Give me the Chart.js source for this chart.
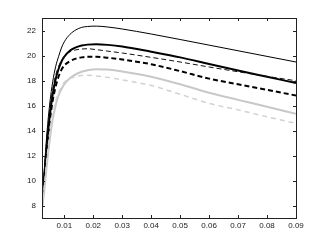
<!DOCTYPE html>
<html>
<head>
<meta charset="utf-8">
<script src="https://cdn.jsdelivr.net/npm/chart.js@4/dist/chart.umd.min.js"></script>
<style>
  html, body { margin: 0; padding: 0; background: #fff; }
  #wrap { width: 327px; height: 246px; }
</style>
</head>
<body>
<div id="wrap"><canvas id="plot"></canvas></div>
<script>
// sample positions along x, shared by every curve
const xs = [0.0023, 0.003, 0.004, 0.005, 0.006, 0.007, 0.008, 0.009, 0.010, 0.012, 0.014,
            0.016, 0.018, 0.021, 0.025, 0.03, 0.04, 0.05, 0.06, 0.07, 0.08, 0.09];

const thinSolid   = [8.4, 10.6, 13.8, 16.2, 17.9, 19.1, 19.9, 20.6, 21.1, 21.7, 22.05,
                     22.25, 22.32, 22.35, 22.28, 22.12, 21.72, 21.28, 20.83, 20.38, 19.93, 19.48];
const thinDashed  = [8.3, 10.4, 13.4, 15.7, 17.3, 18.4, 19.1, 19.6, 19.95, 20.3, 20.45,
                     20.52, 20.54, 20.47, 20.35, 20.2, 19.85, 19.48, 19.08, 18.7, 18.33, 17.98];
const thickSolid  = [8.2, 10.0, 12.9, 15.2, 16.9, 18.1, 18.9, 19.5, 19.9, 20.4, 20.65,
                     20.8, 20.87, 20.9, 20.85, 20.72, 20.3, 19.85, 19.32, 18.8, 18.3, 17.8];
const thickDashed = [8.0, 9.8, 12.6, 14.8, 16.4, 17.5, 18.3, 18.85, 19.2, 19.55, 19.75,
                     19.85, 19.9, 19.9, 19.82, 19.68, 19.3, 18.75, 18.15, 17.7, 17.25, 16.8];
const graySolid   = [7.7, 9.0, 11.3, 13.3, 14.9, 16.0, 16.8, 17.3, 17.7, 18.2, 18.5,
                     18.7, 18.82, 18.9, 18.88, 18.72, 18.3, 17.7, 17.02, 16.45, 15.9, 15.33];
const grayDashed  = [7.8, 9.3, 11.7, 13.7, 15.2, 16.3, 17.0, 17.5, 17.85, 18.15, 18.32,
                     18.4, 18.42, 18.36, 18.25, 18.05, 17.6, 16.9, 16.17, 15.65, 15.1, 14.57];

const xTicks = [0.01, 0.02, 0.03, 0.04, 0.05, 0.06, 0.07, 0.08, 0.09];
const yTicks = [8, 10, 12, 14, 16, 18, 20, 22];

const pts = ys => ys.map((y, i) => ({ x: xs[i], y: y }));

function line(ys, color, width, dash) {
    return {
        data: pts(ys),
        borderColor: color,
        borderWidth: width,
        borderDash: dash || [],
        pointRadius: 0,
        fill: false,
        cubicInterpolationMode: 'monotone'
    };
}

// MATLAB style box with inward ticks on all four sides
const boxPlugin = {
    id: 'box',
    afterDraw(chart) {
        const { ctx, chartArea: a, scales: { x, y } } = chart;
        const len = 3;
        ctx.save();
        ctx.strokeStyle = '#222';
        ctx.lineWidth = 1;
        ctx.beginPath();
        xTicks.forEach(v => {
            const px = Math.round(x.getPixelForValue(v)) + 0.5;
            ctx.moveTo(px, a.bottom); ctx.lineTo(px, a.bottom - len);
            ctx.moveTo(px, a.top); ctx.lineTo(px, a.top + len);
        });
        yTicks.forEach(v => {
            const py = Math.round(y.getPixelForValue(v)) + 0.5;
            ctx.moveTo(a.left, py); ctx.lineTo(a.left + len, py);
            ctx.moveTo(a.right, py); ctx.lineTo(a.right - len, py);
        });
        ctx.stroke();
        ctx.strokeRect(Math.round(a.left) + 0.5, Math.round(a.top) + 0.5,
                       Math.round(a.right - a.left), Math.round(a.bottom - a.top));
        ctx.restore();
    }
};

const tickFont = { family: 'Liberation Sans', size: 8 };

new Chart(document.getElementById('plot'), {
    type: 'line',
    data: {
        datasets: [
            line(grayDashed, '#d2d2d2', 1.5, [5, 4]),
            line(graySolid, '#c8c8c8', 2),
            line(thickDashed, '#000', 2, [5, 3]),
            line(thinDashed, '#111', 1, [5, 3]),
            line(thickSolid, '#000', 2),
            line(thinSolid, '#000', 1)
        ]
    },
    options: {
        responsive: true,
        maintainAspectRatio: false,
        animation: false,
        layout: { padding: { left: 0, top: 18, right: 31, bottom: 0 } },
        plugins: { legend: { display: false }, tooltip: { enabled: false } },
        scales: {
            x: {
                type: 'linear',
                min: 0.0023,
                max: 0.09,
                grid: { display: false, drawTicks: false },
                border: { display: false },
                afterBuildTicks: s => { s.ticks = xTicks.map(v => ({ value: v })); },
                afterFit: s => { s.height = 28; },
                ticks: {
                    font: tickFont,
                    color: '#222',
                    padding: 3,
                    maxRotation: 0,
                    callback: v => v.toFixed(2)
                }
            },
            y: {
                min: 7,
                max: 23,
                grid: { display: false, drawTicks: false },
                border: { display: false },
                afterBuildTicks: s => { s.ticks = yTicks.map(v => ({ value: v })); },
                afterFit: s => { s.width = 42; },
                ticks: { font: tickFont, color: '#222', padding: 6 }
            }
        }
    },
    plugins: [boxPlugin]
});
</script>
</body>
</html>
